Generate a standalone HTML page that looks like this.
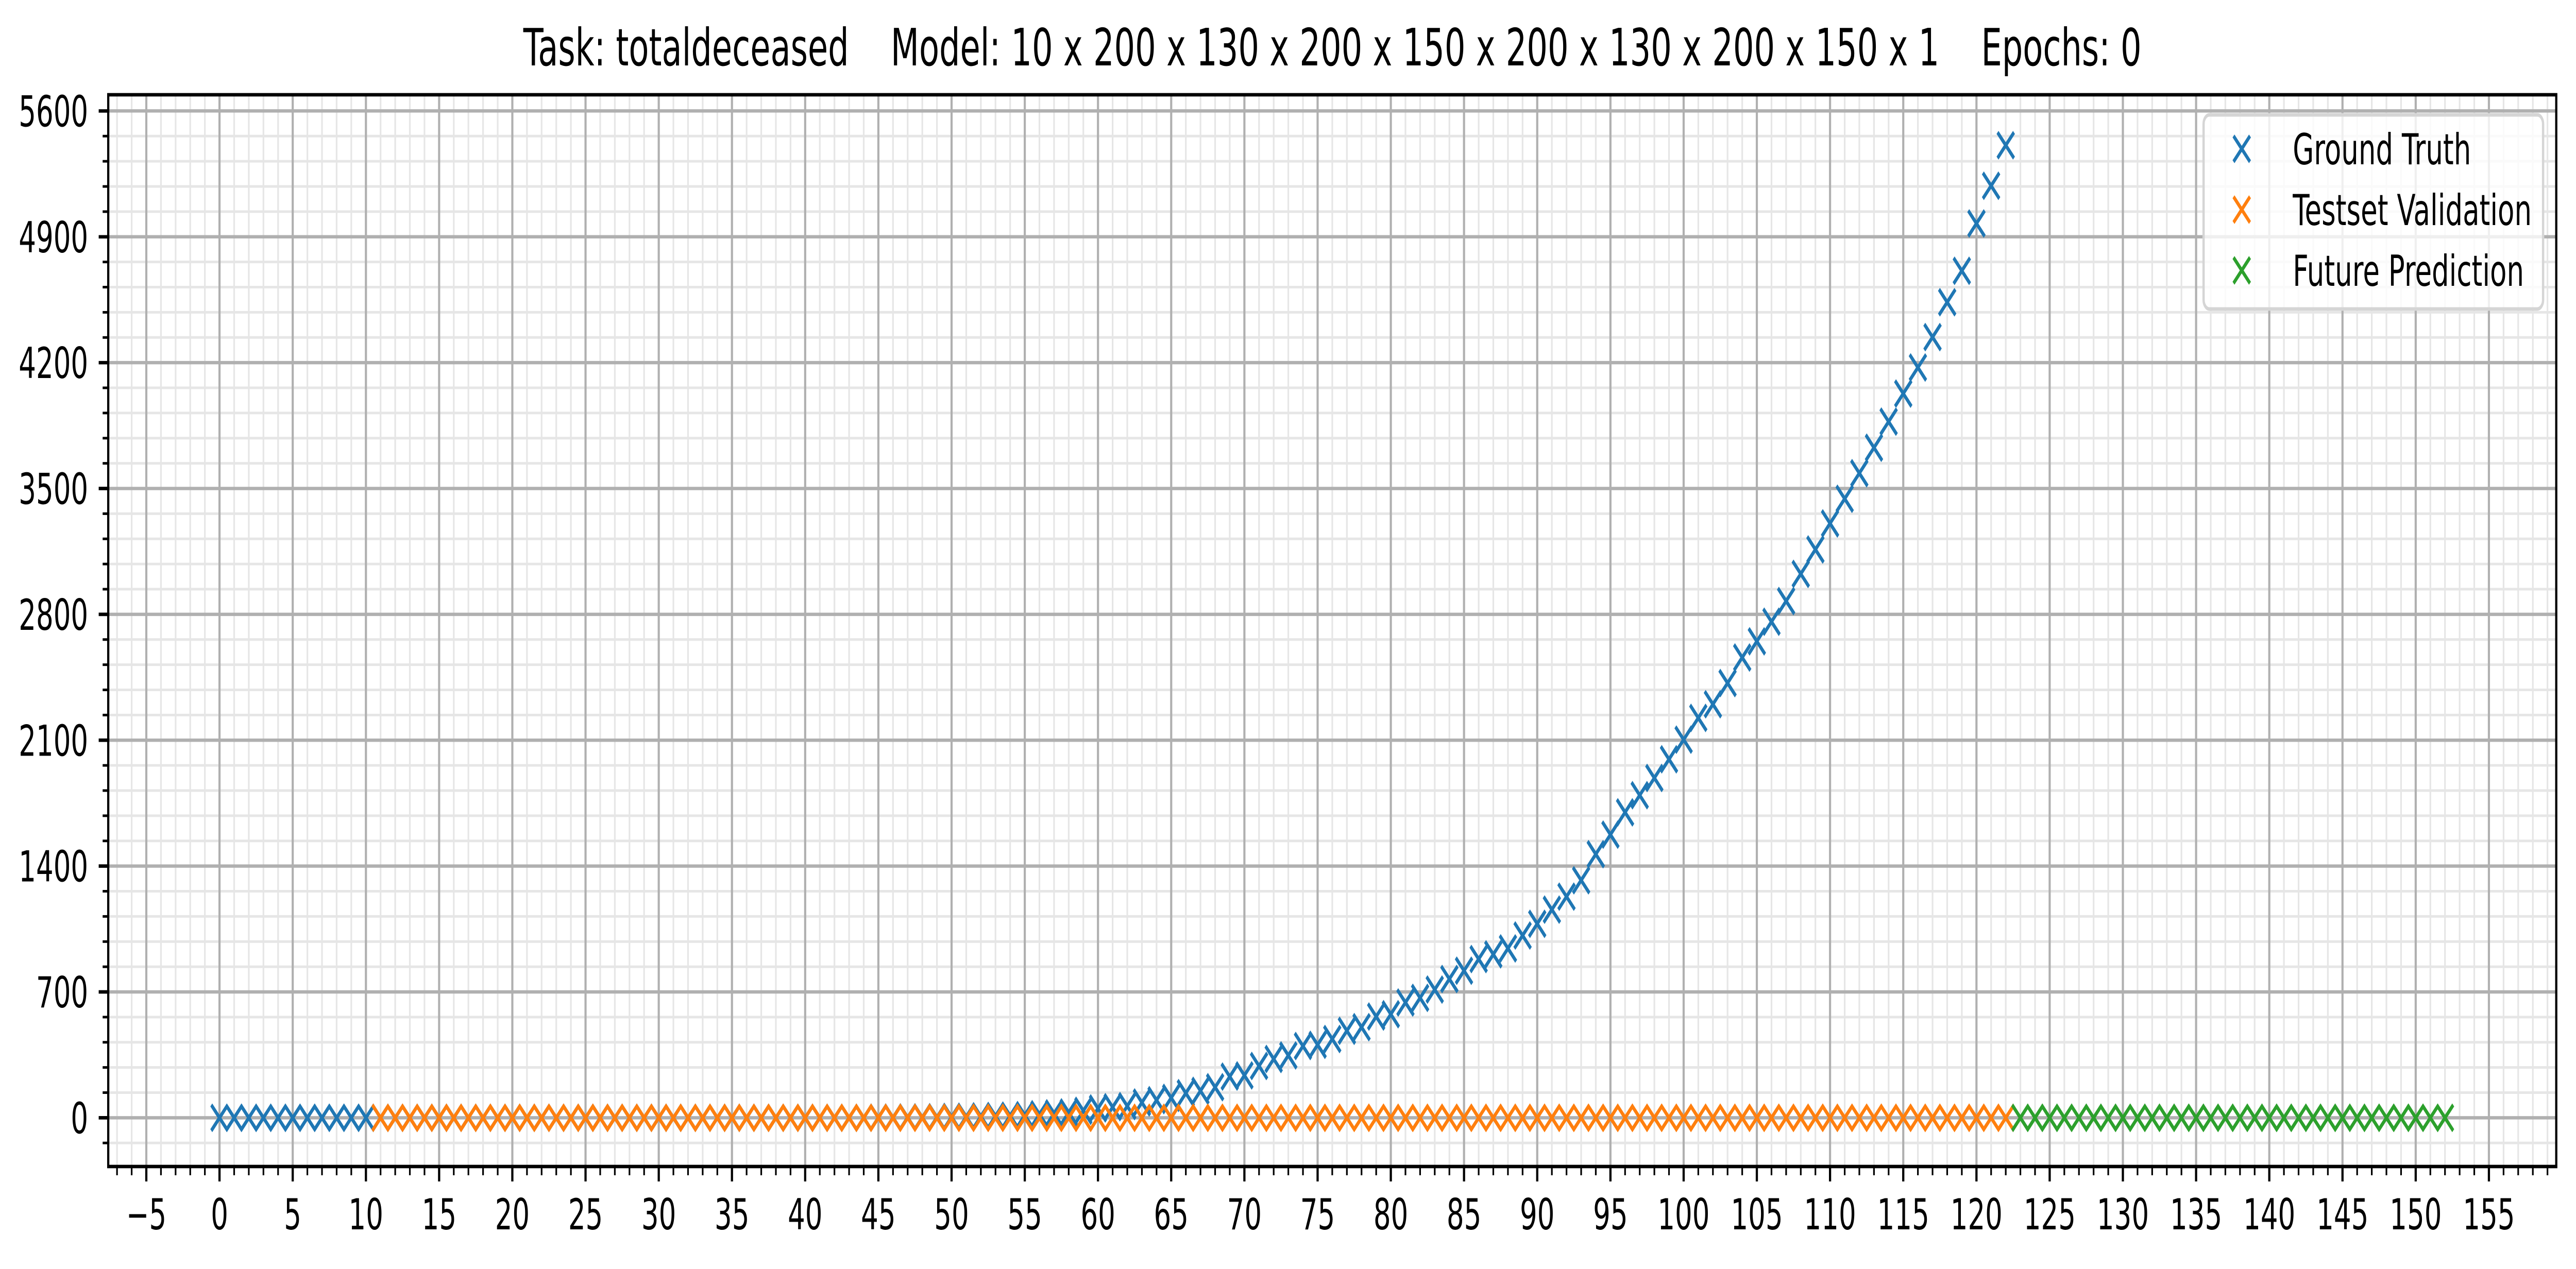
<!DOCTYPE html>
<html><head><meta charset="utf-8"><style>
html,body{margin:0;padding:0;background:#fff;overflow:hidden;width:100%;height:100%;}
svg{display:block;width:100vw;height:100vh;font-family:"DejaVu Sans","Liberation Sans",sans-serif;}
</style></head><body>
<svg id="chart" viewBox="0 0 7830 2464" preserveAspectRatio="none" xmlns="http://www.w3.org/2000/svg">
<rect width="7830" height="2464" fill="#fff"/>
<text x="4050" y="127" font-size="100" text-anchor="middle" xml:space="preserve">Task: totaldeceased    Model: 10 x 200 x 130 x 200 x 150 x 200 x 130 x 200 x 150 x 1    Epochs: 0</text>
<g id="grid"></g>
<g id="series"></g>
<g id="axes"></g>
<g id="legend"></g>
</svg>
<script>
const gtX = [];
for (let i = 0; i <= 122; i++) gtX.push(i);
const gtValues = [0,0,0,0,0,0,0,0,0,0,0,0,0,0,0,0,0,0,0,0,0,0,0,0,0,0,0,0,0,0,0,0,0,0,0,0,0,0,0,0,0,0,0,0,0,1,1,2,2,3,5,6,8,10,12,15,20,25,30,39,52,59,65,85,98,111,137,150,170,229,236,288,327,347,399,406,438,484,504,563,576,641,667,713,772,818,883,909,942,1014,1079,1158,1230,1321,1466,1575,1699,1794,1890,1994,2103,2224,2300,2418,2560,2650,2759,2874,3025,3161,3306,3443,3585,3727,3872,4028,4173,4342,4536,4711,4974,5184,5409];
const testX = [];
for (let i = 11; i <= 122; i++) testX.push(i);
const testValues = testX.map(() => 0);
const futureX = [];
for (let i = 123; i <= 152; i++) futureX.push(i);
const futureValues = futureX.map(() => 0);
const xTickLabels = [-5,0,5,10,15,20,25,30,35,40,45,50,55,60,65,70,75,80,85,90,95,100,105,110,115,120,125,130,135,140,145,150,155];
const yTickLabels = [0,700,1400,2100,2800,3500,4200,4900,5600];
const legendLabels = ["Ground Truth","Testset Validation","Future Prediction"];

const NS = "http://www.w3.org/2000/svg";
const L = 329, R = 7770, T = 184, B = 2265;
const xMin = -7.6, xMax = 159.6, yMin = -271, yMax = 5690;
const sx = v => L + (v - xMin) / (xMax - xMin) * (R - L);
const sy = v => B - (v - yMin) / (yMax - yMin) * (B - T);
function mk(tag, attrs, parent) {
  const e = document.createElementNS(NS, tag);
  for (const k in attrs) e.setAttribute(k, attrs[k]);
  parent.appendChild(e);
  return e;
}
const grid = document.getElementById('grid');
const series = document.getElementById('series');
const axes = document.getElementById('axes');
const legend = document.getElementById('legend');

for (let v = Math.ceil(xMin); v <= xMax; v++) {
  if (v % 5 === 0) continue;
  const l = mk('line', {x1: sx(v), x2: sx(v), y1: T, y2: B, stroke: '#e6e6e6', 'stroke-width': 5}, grid);
  
  
}
for (let v = -140; v <= yMax; v += 140) {
  if (v % 700 === 0) continue;
  const l = mk('line', {x1: L, x2: R, y1: sy(v), y2: sy(v), stroke: '#e6e6e6', 'stroke-width': 5}, grid);
  
  
}
xTickLabels.forEach(v => {
  const l = mk('line', {x1: sx(v), x2: sx(v), y1: T, y2: B, stroke: '#b0b0b0', 'stroke-width': 6.5}, grid);
  
  
});
yTickLabels.forEach(v => {
  const l = mk('line', {x1: L, x2: R, y1: sy(v), y2: sy(v), stroke: '#b0b0b0', 'stroke-width': 6.5}, grid);
  
  
});

function cross(parent, cx, cy, color, name) {
  const s = 25;
  const p = mk('path', {d: `M${cx-s},${cy-s}L${cx+s},${cy+s}M${cx-s},${cy+s}L${cx+s},${cy-s}`, stroke: color, 'stroke-width': 8.3, fill: 'none'}, parent);
  
  
}
gtX.forEach((x, i) => cross(series, sx(x), sy(gtValues[i]), '#1f77b4', 'ground-truth-point'));
testX.forEach((x, i) => cross(series, sx(x), sy(testValues[i]), '#ff7f0e', 'testset-validation-point'));
futureX.forEach((x, i) => cross(series, sx(x), sy(futureValues[i]), '#2ca02c', 'future-prediction-point'));

const frame = mk('rect', {x: L, y: T, width: R - L, height: B - T, fill: 'none', stroke: '#000', 'stroke-width': 6.7}, axes);


for (let v = Math.ceil(xMin); v <= xMax; v++) {
  const major = v % 5 === 0;
  const t = mk('line', {x1: sx(v), x2: sx(v), y1: B, y2: B + (major ? 29 : 17), stroke: '#000', 'stroke-width': major ? 6.7 : 5}, axes);
  
  
}
xTickLabels.forEach(v => {
  const t = mk('text', {x: sx(v), y: 2387, 'font-size': 83, 'text-anchor': 'middle'}, axes);
  t.textContent = v < 0 ? '\u2212' + Math.abs(v) : String(v);
  
  
});
for (let v = -140; v <= yMax; v += 140) {
  const major = v % 700 === 0;
  const t = mk('line', {x1: L, x2: L - (major ? 29 : 17), y1: sy(v), y2: sy(v), stroke: '#000', 'stroke-width': major ? 6.7 : 5}, axes);
  
  
}
yTickLabels.forEach(v => {
  const t = mk('text', {x: 268, y: sy(v) + 30, 'font-size': 83, 'text-anchor': 'end'}, axes);
  t.textContent = String(v);
  
  
});

const box = mk('rect', {x: 6698, y: 223, width: 1032, height: 377, rx: 18, fill: 'rgba(255,255,255,0.8)', stroke: '#d5d5d5', 'stroke-width': 7}, legend);


const colors = ['#1f77b4', '#ff7f0e', '#2ca02c'];
legendLabels.forEach((lab, i) => {
  const y = 289 + i * 118;
  cross(legend, 6814, y, colors[i], 'legend-marker');
  const t = mk('text', {x: 6969, y: y + 30, 'font-size': 83}, legend);
  t.textContent = lab;
  
  
});
</script>
</body></html>
